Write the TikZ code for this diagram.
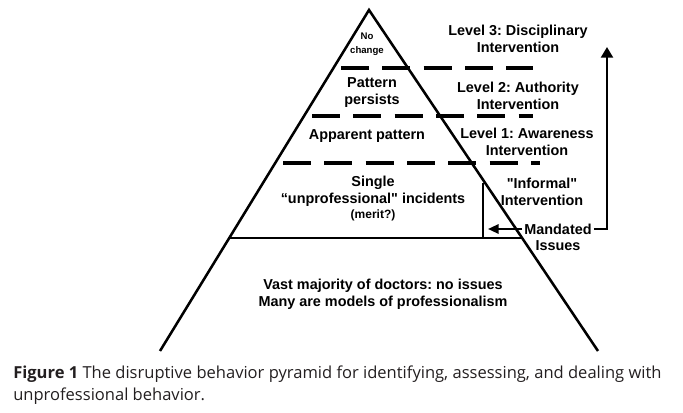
\documentclass[tikz,border=0pt]{standalone}
\usepackage{fontspec}
\setmainfont{Liberation Sans}
\newfontfamily\capfont{Open Sans}
\usetikzlibrary{arrows.meta}
\definecolor{captext}{HTML}{231F20}
\frenchspacing
\begin{document}
\begin{tikzpicture}[x=0.75pt,y=-0.75pt]

    \tikzset{
      side/.style={
        line width=1.9pt,
        draw,
      },
      level/.style={
        line width=2.6pt,
        dash pattern=on 21pt off 10pt,
      },
      lbl/.style={
        font=\bfseries\fontsize{10.8}{12.6}\selectfont,
        align=center,
        inner sep=0pt,
      },
      small/.style={
        lbl,
        font=\bfseries\fontsize{7.2}{10.3}\selectfont,
      },
      caption/.style={
        anchor=base west,
        inner sep=0pt,
        text=captext,
        font=\capfont\fontsize{12.4}{16.5}\selectfont,
      },
    }
    \useasboundingbox (0,0) rectangle (683,413);
	\draw[side] (160,351)--(369,10)--(598,351);
	\draw[side] (229,238)--(522,238);
	\draw[side] (483,183)--(483,238);
	\draw[level] (341,68)--(533,68);
	\draw[level] (312,116)--(533,116);
	\draw[level] (283,163)--(540,163);

	\node[small] (nochange) at (367,44) {No\\change};
	\node[lbl] (persists) at (372,92.5) {Pattern\\persists};
	\node[lbl] (apparent) at (367,136) {Apparent pattern};
	\node[lbl] (single) at (373,191) {Single\\“unprofessional\textquotedbl{} incidents};
	\node[lbl,font=\bfseries\fontsize{9}{11}\selectfont] (merit) at (373,215) {(merit?)};
	\node[lbl] (majority) at (383,294) {Vast majority of doctors: no issues\\Many are models of professionalism};

	\node[lbl] (level3) at (518,38.5) {Level 3: Disciplinary\\Intervention};
	\node[lbl] (level2) at (518,96) {Level 2: Authority\\Intervention};
	\node[lbl] (level1) at (527,141.5) {Level 1: Awareness\\Intervention};
	\node[lbl] (informal) at (542,191.5) {\textquotedbl Informal\textquotedbl\\Intervention};
	\node[lbl] (mandated) at (558,229) {Mandated};
	\node[lbl] (issues) at (558,246) {Issues};

	\coordinate (stop) at (488,229);
	\coordinate (corner) at (607,229);
	\coordinate (top) at (607,47);
	\draw[line width=1.6pt,-{Triangle[length=8pt,width=7pt]}] (mandated.west)++(-2,0)--(stop);
	\draw[line width=1.6pt,-{Triangle[length=8pt,width=9pt]}] (mandated.east)++(2,0)--(corner)--(top);

	\node[caption] (cap1) at (13,379) {\textbf{Figure 1} The disruptive behavior pyramid for identifying, assessing, and dealing with};
	\node[caption] (cap2) at (13,401) {unprofessional behavior.};

\end{tikzpicture}
\end{document}
